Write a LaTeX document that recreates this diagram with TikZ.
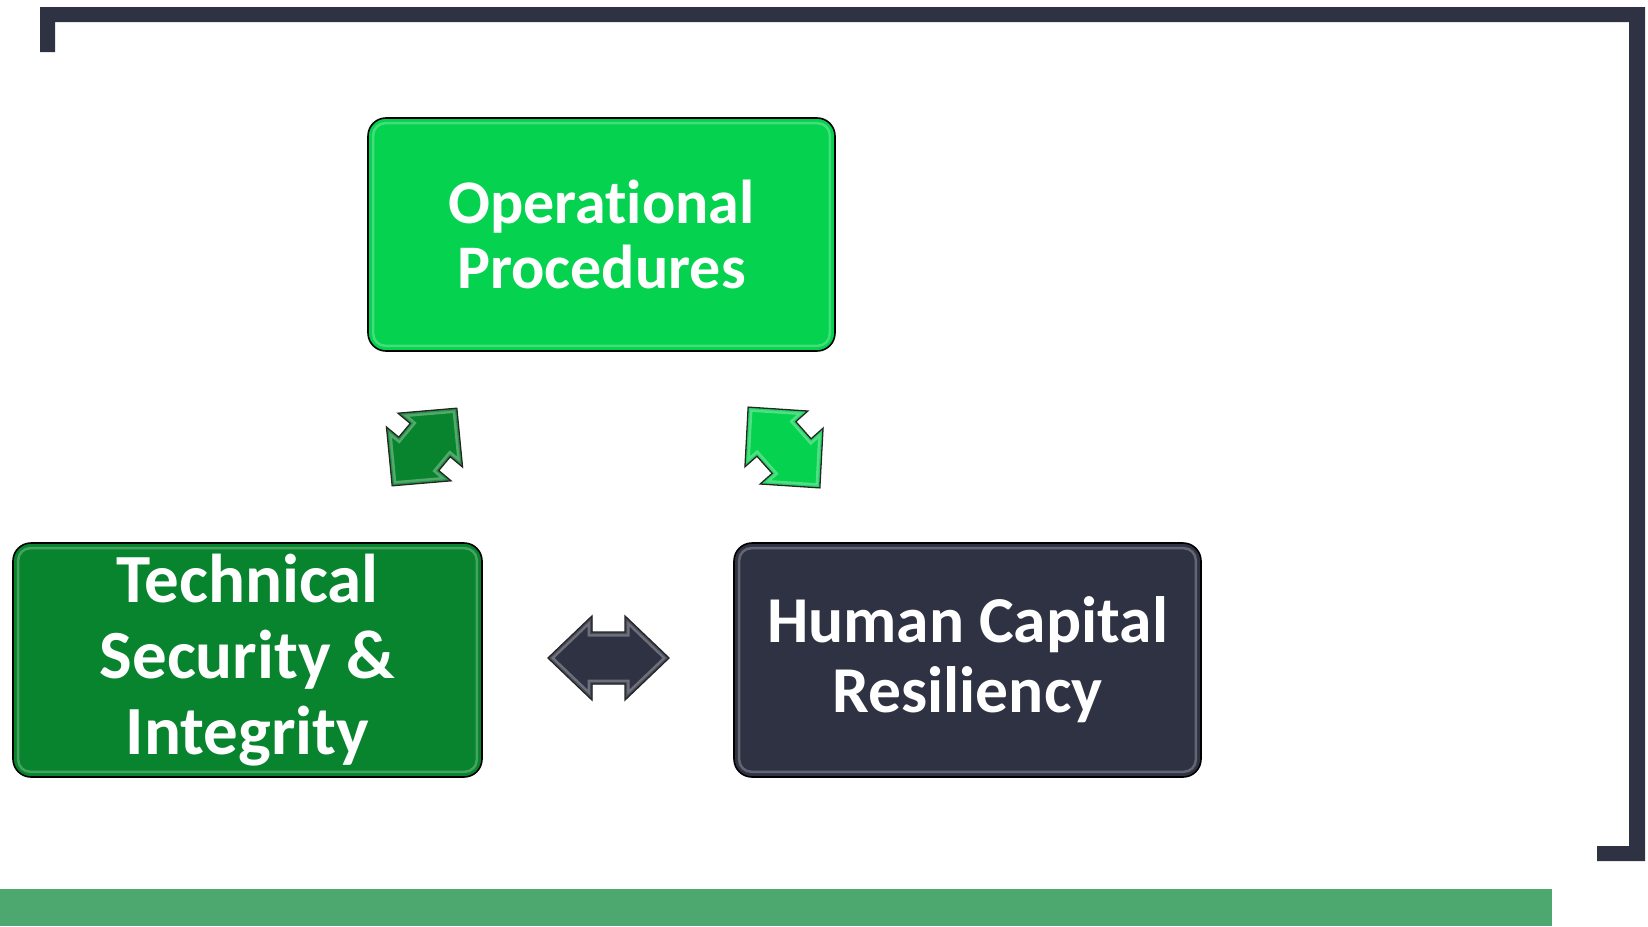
\documentclass[tikz,border=0pt]{standalone}
\usepackage{fontspec}
\setmainfont{Carlito}[Ligatures=NoCommon]
\definecolor{navy}{HTML}{2F3243}
\definecolor{brightgreen}{HTML}{05D24F}
\definecolor{darkgreen}{HTML}{07842D}
\definecolor{bargreen}{HTML}{4CA86E}
\newcommand{\dblarr}[4]{%
 (-#1,0) -- ({-#1+#2},-#3) -- ({-#1+#2},-#4) -- ({#1-#2},-#4) -- ({#1-#2},-#3) -- (#1,0)
 -- ({#1-#2},#3) -- ({#1-#2},#4) -- ({-#1+#2},#4) -- ({-#1+#2},#3) -- cycle}
\newcommand{\bevelarrow}[5]{% #1 colour, #2-#5 geometry
  \begin{scope}
    \clip \dblarr{#2}{#3}{#4}{#5};
    \fill[#1] \dblarr{#2}{#3}{#4}{#5};
    \draw[line width=9pt, #1!70!white, line join=miter] \dblarr{#2}{#3}{#4}{#5};
    \draw[line width=4pt, #1!88!white, line join=miter] \dblarr{#2}{#3}{#4}{#5};
  \end{scope}
  \draw[arrowbody] \dblarr{#2}{#3}{#4}{#5};}
\tikzset{
  box/.style={draw=black, line width=1.6pt, rounded corners=18pt, minimum width=467pt, minimum height=233pt, inner sep=0pt},
  boxhl/.style={draw=white, draw opacity=0.25, line width=2.5pt, rounded corners=12pt},
  lbl/.style={anchor=base, text=white, inner sep=0pt},
  arrowbody/.style={draw=black!85, line width=1.3pt, line join=miter},
}
\begin{document}
\begin{tikzpicture}[x=1pt,y=-1pt]
\useasboundingbox (0,0) rectangle (1648,926);
% frame bracket
\fill[navy] (40,52) -- (40,7) -- (1645,7) -- (1645,861) -- (1597,861) -- (1597,846)
  -- (1629,846) -- (1629,22) -- (55,22) -- (55,52) -- cycle;
% bottom bar
\fill[bargreen] (0,889) rectangle (1552,926);

% boxes
\node[box, fill=brightgreen] (op) at (601.5,234.5) {};
\draw[boxhl] ([shift={(6,6)}]op.north west) rectangle ([shift={(-6,-6)}]op.south east);
\node[box, fill=darkgreen, minimum width=469pt, minimum height=234pt] (ts) at (247.5,660) {};
\draw[boxhl] ([shift={(6,6)}]ts.north west) rectangle ([shift={(-6,-6)}]ts.south east);
\node[box, fill=navy, minimum height=234pt] (hc) at (967.5,660) {};
\draw[boxhl] ([shift={(6,6)}]hc.north west) rectangle ([shift={(-6,-6)}]hc.south east);

% labels
\begin{scope}[every node/.append style={font=\fontsize{62pt}{62pt}\selectfont\bfseries}]
\node[lbl] (op1) at (601.5,223) {Operational};
\node[lbl] (op2) at (601.5,288) {Procedures};
\end{scope}
\begin{scope}[every node/.append style={font=\fontsize{69pt}{69pt}\selectfont\bfseries}]
\node[lbl] (ts1) at (247.5,602) {Technical};
\node[lbl] (ts2) at (247.5,678) {Security \&};
\node[lbl] (ts3) at (247.5,754) {Integrity};
\end{scope}
\begin{scope}[every node/.append style={font=\fontsize{65.5pt}{65.5pt}\selectfont\bfseries}]
\node[lbl] (hc1) at (967.5,642) {Human Capital};
\node[lbl] (hc2) at (967.5,712) {Resiliency};
\end{scope}

% arrows
\coordinate (a1) at (424.5,447);
\coordinate (a2) at (784,447.5);
\coordinate (a3) at (608.5,658);
\begin{scope}[shift={(a1)}, rotate=50.2]
  \bevelarrow{darkgreen}{50.5}{41.5}{42}{26}
\end{scope}
\begin{scope}[shift={(a2)}, rotate=-48.4]
  \bevelarrow{brightgreen}{54}{42.5}{42}{26}
\end{scope}
\begin{scope}[shift={(a3)}]
  \bevelarrow{navy}{60.5}{44}{42}{26}
\end{scope}
\end{tikzpicture}
\end{document}
